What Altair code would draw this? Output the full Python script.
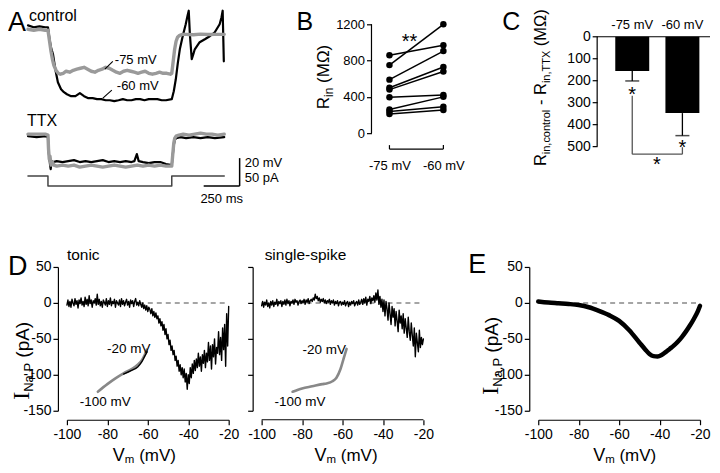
import altair as alt
import numpy as np
import pandas as pd

FONT = "Liberation Sans"
SERIF = "Liberation Serif"
GRAY = "#9a9a9a"

# ---------------- Panel A : voltage traces (time ms, deflection mV) ----------------
ctl60_t = [0, 40, 80, 120, 139, 150, 160, 174, 190, 208, 230, 250, 271, 300, 330, 361, 390, 420, 450, 480,
           510, 540, 570, 600, 630, 660, 690, 720, 750, 780, 810, 840, 870, 900, 930, 960, 1000, 1014, 1028,
           1042, 1056, 1076, 1097, 1110, 1118, 1126, 1139, 1150, 1160, 1194, 1230, 1264, 1299, 1333, 1346,
           1354, 1362]
ctl60_v = [3.3, 1.7, 2.5, 1.7, 1.7, -8.3, -15, -20.8, -33.3, -44.2, -50, -52.5, -54.2, -55.8, -55.8, -53.3,
           -55.8, -57.5, -57.5, -58.3, -58.3, -59.2, -59.2, -60, -59.2, -58.3, -59.2, -59.2, -58.3, -58.3,
           -59.2, -58.3, -58.3, -58.3, -59.2, -59.2, -58.3, -51.7, -41.7, -28.3, -16.7, -5.8, 4.2, 11.5, 15.5,
           -4.2, -25, -20.8, -16.7, -10.8, -8.3, -5.8, -2.5, 4.2, 10, 15.5, -26.7]
ctl75_t = [0, 40, 80, 120, 139, 150, 160, 170, 180, 195, 210, 225, 245, 265, 290, 315, 340, 365, 390, 415,
           440, 465, 490, 515, 540, 565, 590, 615, 640, 665, 690, 715, 740, 765, 790, 815, 840, 865, 890, 915,
           940, 965, 990, 1000, 1010, 1020, 1030, 1040, 1055, 1075, 1100, 1150, 1200, 1250, 1300, 1365]
ctl75_v = [0, -0.8, 0, -0.8, -0.8, -10, -18.3, -25, -30, -34.2, -36.7, -37.5, -36.7, -35, -35.8, -34.2,
           -33.3, -32.5, -31.7, -33.3, -35, -35.8, -34.2, -33.3, -31.7, -32.5, -34.2, -35.8, -36.7, -35,
           -34.2, -35, -35.8, -36.7, -35.8, -35, -36.7, -37.5, -36.7, -35.8, -36.7, -36.7, -37.5, -36.7,
           -26.7, -16.7, -10, -6.7, -5, -4.2, -4.2, -4.6, -4, -4.4, -4.2, -4.2]
ttx60_t = [0, 60, 120, 139, 143, 148, 153, 158, 165, 175, 200, 240, 280, 320, 360, 400, 440, 480, 520, 560,
           600, 640, 680, 720, 740, 757, 770, 800, 840, 880, 920, 960, 1000, 1007, 1014, 1021, 1030, 1060,
           1100, 1150, 1200, 1250, 1300, 1365]
ttx60_v = [-89.2, -90, -89.2, -90, -101.7, -106.7, -112.5, -116.7, -110, -110.8, -110, -110.8, -110, -109.2,
           -110.8, -110, -110.8, -110, -109.2, -110.8, -110, -110.8, -110, -110.8, -110, -104.2, -110, -110.8,
           -111.7, -110.8, -110.8, -112.5, -113.3, -105, -96.7, -92.5, -90.8, -90, -90.8, -90, -90.8, -90,
           -90.8, -90]
ttx75_t = [0, 60, 120, 139, 143, 148, 153, 160, 170, 180, 200, 240, 280, 320, 360, 400, 440, 480, 520, 560,
           600, 640, 680, 720, 760, 800, 840, 880, 920, 960, 1000, 1007, 1014, 1021, 1030, 1050, 1080, 1120,
           1160, 1200, 1240, 1280, 1320, 1365]
ttx75_v = [-87.5, -87.5, -87.5, -88.3, -100, -108.3, -105.8, -113.3, -110.8, -113.3, -114.2, -113.3, -114.2,
           -113.3, -115, -114.2, -113.3, -114.2, -115, -114.2, -113.3, -114.2, -115, -114.2, -113.3, -114.2,
           -113.3, -114.2, -113.3, -114.2, -114.2, -104.2, -95, -90.8, -89.2, -88.3, -87.5, -88.3, -87.5,
           -86.7, -87.5, -87.5, -88.3, -87.5]
cmd_t = [0, 139, 139, 1000, 1000, 1365]
cmd_v = [-122.5, -122.5, -130.8, -130.8, -122.5, -122.5]

# ---------------- Panel B : input resistance (MOhm) ----------------
rin_m75 = [860, 750, 590, 500, 480, 395, 260, 240, 210]
rin_m60 = [970, 1200, 905, 730, 680, 420, 400, 290, 255]

# ---------------- Panel C : TTX-sensitive resistance ----------------
c_x = [-75, -60]
c_mean = [156, 349]
c_err = [46, 103]

# ---------------- Panel D / E : I_NaP vs Vm ----------------
tonic_i = [-3, 4, -5, 2, -6, 5, 0, -4, 6, -2,
           3, -7, 4, -1, 7, -3, 2, -5, 8, -2,
           5, -4, 10, -1, 4, -6, 3, 0, 6, -3,
           12, -2, 5, -4, 2, -6, 4, 1, -3, 6,
           -5, 3, -2, 7, -4, 2, -1, 5, -6, 3,
           0, -3, 4, -5, 6, -2, 3, -4, 1, 5,
           -3, 2, -6, 4, -1, 3, -5, 2, 6, -3,
           1, -4, 3, -2, -6, 0, -8, -3, -10, -4,
           -12, -6, -9, -15, -8, -18, -12, -20, -14, -22,
           -18, -28, -22, -32, -26, -38, -30, -44, -36, -50,
           -44, -58, -52, -66, -60, -72, -66, -80, -74, -88,
           -80, -95, -86, -100, -90, -104, -92, -110, -98, -120,
           -100, -112, -90, -104, -85, -98, -80, -94, -78, -90,
           -70, -88, -75, -95, -72, -84, -66, -90, -70, -82,
           -55, -80, -60, -92, -58, -75, -50, -85, -62, -70,
           -40, -72, -48, -80, -35, -65, -30, -88, -15, -60, -5]
single_i = [-4, 2, -6, 1, -3, 4, -5, 0, -7, 2,
            -3, 3, -5, 1, -2, 5, -4, 2, -1, 3,
            -5, 2, -2, 4, -3, 5, -1, 3, -4, 2,
            0, 4, -2, 5, 1, 3, -3, 2, 4, -1,
            3, 0, 5, -2, 4, 1, 6, -1, 3, 5,
            2, 7, 4, 12, 6, 9, 3, 7, 1, 5,
            2, 6, 0, 4, -1, 3, 1, 5, -2, 3,
            0, 4, -3, 2, -1, 3, -4, 1, 2, -3,
            1, -2, 3, -4, 0, 2, -5, 1, -3, 2,
            -1, 3, -4, 0, 2, -3, 4, -2, 1, 5,
            -2, 6, 0, 8, -3, 5, 2, 9, -1, 7,
            3, 10, 1, 14, 4, 18, -2, 9, -6, 5,
            -12, 4, -18, 2, -8, -24, 0, -15, -30, -5,
            -20, -8, -32, -12, -25, -40, -10, -28, -18, -36,
            -15, -42, -22, -35, -48, -20, -40, -52, -28, -45,
            -60, -35, -75, -42, -55, -68, -38, -62, -48, -58, -50]
inset1_gray_v = [-84.7, -80, -76, -72, -68, -65, -63, -61.5, -60.5]
inset1_gray_i = [-123.6, -113, -105, -98, -92, -86, -80, -72, -65]
inset1_black_v = [-72, -68, -65, -63, -61.5, -60.3]
inset1_black_i = [-99, -94, -89, -82, -74, -68]
inset2_v = [-84.7, -80, -75, -70, -67.9, -65, -63, -61, -59.5, -58]
inset2_i = [-123.6, -119, -116, -113, -112, -109, -104, -92, -78, -64]
model_v = [-100, -95, -90, -85, -80, -75, -70, -65, -60, -55, -50, -47, -45, -43, -41, -39, -37, -35, -33,
           -31, -29, -27, -25, -23, -21, -20]
model_i = [2, 0.5, -0.5, -1.5, -3, -6, -11, -17, -25, -38, -55, -65, -71, -74, -74.5, -72.5, -68.5, -64,
           -59.5, -54, -47.5, -40, -31.5, -22, -11, -4]

# ---------------- helpers ----------------
AFM = {'R': 722, 'i': 222, 'n': 556, ' ': 278, '(': 333, ')': 333, 'M': 833, 'Ω': 768, ',': 278, 'c': 500,
       'o': 556, 't': 278, 'r': 333, 'l': 222, '-': 333, 'T': 611, 'X': 667, 'N': 722, 'a': 556, 'P': 667,
       'p': 556, 'A': 667, 'V': 667, 'm': 833}


def tw(s, size, serif=False):
    if serif:
        return 333 * size / 1000 * len(s)
    return sum(AFM.get(ch, 556) for ch in s) * size / 1000


def ptext(txt, x, y, size, align='left', baseline='top', font=FONT, angle=0, color='black'):
    kw = dict(align=align, baseline=baseline, fontSize=size, font=font, color=color)
    if angle:
        kw['angle'] = angle
    return alt.Chart(pd.DataFrame({'s': [txt]})).mark_text(**kw).encode(
        text='s:N', x=alt.value(x), y=alt.value(y))


def vtitle(parts, bx, by, sub=4):
    out = []
    pos = by
    for txt, size, font, is_sub in parts:
        lead = len(txt) - len(txt.lstrip(' '))
        pos -= lead * 278 * size / 1000
        t = txt.lstrip(' ')
        out.append(ptext(t, bx + (sub if is_sub else 0), pos, size, baseline='alphabetic', font=font,
                         angle=270))
        pos -= tw(t, size, font == SERIF)
    return out


def htitle(parts, x0, by, sub=2):
    out = []
    pos = x0
    for txt, size, font, is_sub in parts:
        lead = len(txt) - len(txt.lstrip(' '))
        pos += lead * 278 * size / 1000
        t = txt.lstrip(' ')
        out.append(ptext(t, pos, by + (sub if is_sub else 0), size, baseline='alphabetic', font=font))
        pos += tw(t, size, font == SERIF)
    return out


def line_layer(xv, yv, xs, ys, xa, ya, color='black', width=1.3, interp=None):
    df = pd.DataFrame({'x': xv, 'y': yv, 'k': range(len(xv))})
    kw = dict(color=color, strokeWidth=width, strokeJoin='round', strokeCap='round')
    if interp:
        kw['interpolate'] = interp
    return alt.Chart(df).mark_line(**kw).encode(
        x=alt.X('x:Q', scale=xs, axis=xa), y=alt.Y('y:Q', scale=ys, axis=ya), order='k:Q')


def seg_layer(x1, y1, x2, y2, xs, ys, xa, ya, color='black', width=1.3, dash=None):
    df = pd.DataFrame({'x': x1, 'y': y1, 'x2': x2, 'y2': y2})
    kw = dict(color=color, strokeWidth=width)
    if dash:
        kw['strokeDash'] = dash
    return alt.Chart(df).mark_rule(**kw).encode(
        x=alt.X('x:Q', scale=xs, axis=xa), x2='x2:Q',
        y=alt.Y('y:Q', scale=ys, axis=ya), y2='y2:Q')


def dtext(xv, yv, txt, xs, ys, xa, ya, size=13, align='left', baseline='middle', font=FONT):
    df = pd.DataFrame({'x': xv, 'y': yv, 's': txt})
    return alt.Chart(df).mark_text(align=align, baseline=baseline, fontSize=size, font=font,
                                   color='black').encode(
        x=alt.X('x:Q', scale=xs, axis=xa), y=alt.Y('y:Q', scale=ys, axis=ya), text='s:N')


def sc(lo, hi, rev=False):
    if rev:
        return alt.Scale(domain=[lo, hi], nice=False, zero=False, reverse=True)
    return alt.Scale(domain=[lo, hi], nice=False, zero=False)


LBL = "datum.value + ''"
N = None

# ---------------- Panel A ----------------
xsA, ysA = sc(270.8, 2229.2), sc(-97.5, 4.167)
A = alt.layer(
    line_layer(ctl60_t, ctl60_v, xsA, ysA, N, N, 'black', 2.2),
    line_layer(ctl75_t, ctl75_v, xsA, ysA, N, N, GRAY, 3.4),
    line_layer(ttx60_t, ttx60_v, xsA, ysA, N, N, 'black', 2.2),
    line_layer(ttx75_t, ttx75_v, xsA, ysA, N, N, GRAY, 3.4),
    line_layer(cmd_t, cmd_v, xsA, ysA, N, N, '#444444', 1.5),
    seg_layer([535, 521], [-33.3, -57.5], [590, 583], [-26.7, -50.8], xsA, ysA, N, N, 'black', 1.1),
    seg_layer([1472, 1222], [-130.8, -130.8], [1472, 1472], [-107.5, -130.8], xsA, ysA, N, N, 'black', 1.5),
    dtext([7, -7], [10.8, -76.7], ['control', 'TTX'], xsA, ysA, N, N, 16),
    dtext([604, 618], [-25.8, -47.5], ['-75 mV', '-60 mV'], xsA, ysA, N, N, 13),
    dtext([1507, 1507], [-111.7, -124.2], ['20 mV', '50 pA'], xsA, ysA, N, N, 13),
    dtext([1347], [-141.7], ['250 ms'], xsA, ysA, N, N, 13, align='center'),
    ptext('A', -59, -14, 27),
).properties(width=282, height=122)

# ---------------- Panel B ----------------
xsB, ysB = sc(-77.22, -26.39), sc(-143.1, 1200)
XB = alt.Axis(values=[-75, -60], labelExpr="datum.value + ' mV'", domain=False, ticks=False,
              labelPadding=13, labelFontSize=13, title=None, grid=False, labelFlush=False)
YB = alt.Axis(values=[0, 400, 800, 1200], offset=10, domain=False, tickSize=5, labelFontSize=13,
              labelPadding=2, labelExpr=LBL, title=None, grid=False, labelFlush=False)
n = len(rin_m75)
dfB = pd.DataFrame({'cell': list(range(n)) * 2, 'x': [-75] * n + [-60] * n, 'y': rin_m75 + rin_m60})
B = alt.layer(
    alt.Chart(dfB).mark_line(color='black', strokeWidth=1.5).encode(
        x=alt.X('x:Q', scale=xsB, axis=XB), y=alt.Y('y:Q', scale=ysB, axis=YB), detail='cell:N'),
    alt.Chart(dfB).mark_point(filled=True, color='black', size=42, opacity=1).encode(
        x=alt.X('x:Q', scale=xsB, axis=XB), y=alt.Y('y:Q', scale=ysB, axis=YB)),
    alt.Chart(pd.DataFrame({'y': [0], 'y2': [1200]})).mark_rule(color='black', strokeWidth=1.2).encode(
        x=alt.value(-10), y=alt.Y('y:Q', scale=ysB, axis=YB), y2='y2:Q'),
    seg_layer([-75, -75, -60], [-176, -176, -176], [-60, -75, -60], [-176, -132, -132], xsB, ysB, XB, YB,
              'black', 1.2),
    dtext([-69.4], [936], ['**'], xsB, ysB, XB, YB, 20, align='center', baseline='alphabetic'),
    *vtitle([('R', 17, FONT, False), ('in', 12, FONT, True), (' (MΩ)', 17, FONT, False)], -53, 85),
    ptext('B', -85, -14, 25),
).properties(width=183, height=122)

# ---------------- Panel C ----------------
xsC, ysC = sc(-84, -52.64), sc(-57, 500, rev=True)
XC = alt.Axis(values=[-75, -60], labels=False, ticks=False, domain=False, title=None, grid=False)
YC = alt.Axis(values=[0, 100, 200, 300, 400, 500], domain=False, tickSize=5, labelFontSize=14,
              labelPadding=2, labelExpr=LBL, title=None, grid=False, labelFlush=False)
dfC = pd.DataFrame({'x': c_x, 'y': c_mean, 'top': [a + b for a, b in zip(c_mean, c_err)], 'z': [0, 0]})
C = alt.layer(
    alt.Chart(dfC).mark_bar(color='black', size=34, orient='vertical').encode(
        x=alt.X('x:Q', scale=xsC, axis=XC), y=alt.Y('y:Q', scale=ysC, axis=YC), y2='z:Q'),
    alt.Chart(dfC).mark_rule(color='black', strokeWidth=1.3).encode(
        x=alt.X('x:Q', scale=xsC, axis=XC), y=alt.Y('y:Q', scale=ysC, axis=YC), y2='top:Q'),
    alt.Chart(dfC).mark_tick(color='black', size=14, thickness=1.5, orient='horizontal').encode(
        x=alt.X('x:Q', scale=xsC, axis=XC), y=alt.Y('top:Q', scale=ysC, axis=YC)),
    alt.Chart(pd.DataFrame({'y': [0], 'y2': [500]})).mark_rule(color='black', strokeWidth=1.2).encode(
        x=alt.value(0), y=alt.Y('y:Q', scale=ysC, axis=YC), y2='y2:Q'),
    alt.Chart(pd.DataFrame({'y': [0]})).mark_rule(color='black', strokeWidth=1.2).encode(
        x=alt.value(0), x2=alt.value(113), y=alt.Y('y:Q', scale=ysC, axis=YC)),
    seg_layer([-75, -75, -60], [270, 537, 537], [-75, -60, -60], [537, 537, 505], xsC, ysC, XC, YC,
              '#555555', 1.3),
    dtext([-75, -60], [-52.5, -52.5], ['-75 mV', '-60 mV'], xsC, ysC, XC, YC, 13, align='center'),
    dtext([-75, -60, -67.6], [294, 536, 614], ['*', '*', '*'], xsC, ysC, XC, YC, 20, align='center',
          baseline='alphabetic'),
    *vtitle([('R', 16.5, FONT, False), ('in,control', 11, FONT, True), (' - R', 16.5, FONT, False),
             ('in,TTX', 11, FONT, True), (' (MΩ)', 16.5, FONT, False)], -51, 142),
    ptext('C', -95, -14, 25),
).properties(width=115, height=122)

# ---------------- Panel D / E ----------------
xsD, ysD = sc(-100, -20), sc(-150, 50)
xsD2 = sc(-100, 20.49)
XD = alt.Axis(values=[-100, -80, -60, -40, -20], offset=9, tickSize=5, labelPadding=3, labelFontSize=14,
              labelExpr=LBL, title=None, grid=False, labelFlush=False, labelOverlap=False)
YD = alt.Axis(values=[50, 0, -50, -100, -150], offset=9, tickSize=5, labelPadding=2, labelFontSize=14,
              labelExpr=LBL, title=None, grid=False, labelFlush=False, labelOverlap=False)
XD2 = alt.Axis(values=[-100, -80, -60, -40, -20], offset=9, tickSize=5, labelPadding=3, labelFontSize=14,
               labelExpr=LBL, domain=False, title=None, grid=False, labelFlush=False, labelOverlap=False)
YD2 = alt.Axis(values=[50, 0, -50, -100, -150], offset=9, tickSize=5, labels=False, title=None, grid=False)
vgrid1 = np.linspace(-100, -20, len(tonic_i))
vgrid2 = np.linspace(-100, -20, len(single_i))
ytitle = [('I', 24, SERIF, False), ('Na,P', 13, FONT, True), (' (pA)', 19, FONT, False)]
xtitle = [('V', 18, FONT, False), ('m', 11.5, FONT, True), (' (mV)', 17, FONT, False)]
DASH = [5, 4]
TY = 194

D1 = alt.layer(
    seg_layer([-100], [0], [-20], [0], xsD, ysD, XD, YD, '#888888', 1.5, DASH),
    line_layer(list(vgrid1), tonic_i, xsD, ysD, XD, YD, 'black', 1.4),
    line_layer(inset1_gray_v, inset1_gray_i, xsD, ysD, XD, YD, '#888888', 2.6, interp='monotone'),
    line_layer(inset1_black_v, inset1_black_i, xsD, ysD, XD, YD, 'black', 1.4, interp='monotone'),
    dtext([-80.2, -93.6], [-63.9, -137.5], ['-20 mV', '-100 mV'], xsD, ysD, XD, YD, 13.5),
    ptext('tonic', 0, -12, 15.5, baseline='middle'),
    *vtitle(ytitle, -38, 133),
    *htitle(xtitle, 46, TY),
    ptext('D', -59, -13, 27),
).properties(width=162, height=144)

D2 = alt.layer(
    seg_layer([-100], [0], [-20], [0], xsD2, ysD, XD2, YD2, '#888888', 1.5, DASH),
    line_layer(list(vgrid2), single_i, xsD2, ysD, XD2, YD2, 'black', 1.4),
    alt.Chart(pd.DataFrame({'x': [-100], 'x2': [-20]})).mark_rule(color='black', strokeWidth=1.2).encode(
        x=alt.X('x:Q', scale=xsD2, axis=XD2), x2='x2:Q', y=alt.value(153)),
    line_layer(inset2_v, inset2_i, xsD2, ysD, XD2, YD2, '#888888', 2.6, interp='monotone'),
    dtext([-79.8, -93.6], [-65, -137.5], ['-20 mV', '-100 mV'], xsD2, ysD, XD2, YD2, 13.5),
    ptext('single-spike', 3, -12, 15.5, baseline='middle'),
    *htitle(xtitle, 53, TY),
).properties(width=244, height=144)

E = alt.layer(
    seg_layer([-100], [0], [-20], [0], xsD, ysD, XD, YD, '#888888', 1.5, DASH),
    line_layer(model_v, model_i, xsD, ysD, XD, YD, 'black', 4.5, interp='monotone'),
    *vtitle(ytitle, -40, 128),
    *htitle(xtitle, 55, TY),
    ptext('E', -70, -15, 27),
).properties(width=162, height=144)

row1 = alt.hconcat(A, B, C, spacing=33, bounds='flush')
row2 = alt.hconcat(D1, D2, E, spacing=33, bounds='flush')
chart = alt.vconcat(row1, row2, spacing=41).properties(padding=0).configure(
    font=FONT).configure_view(stroke=None).configure_axis(
    labelFont=FONT, labelColor='black', domainColor='black', tickColor='black', domainWidth=1.2,
    tickWidth=1.2, grid=False)

chart.save("out.html", embed_options={"renderer": "svg", "actions": False})
